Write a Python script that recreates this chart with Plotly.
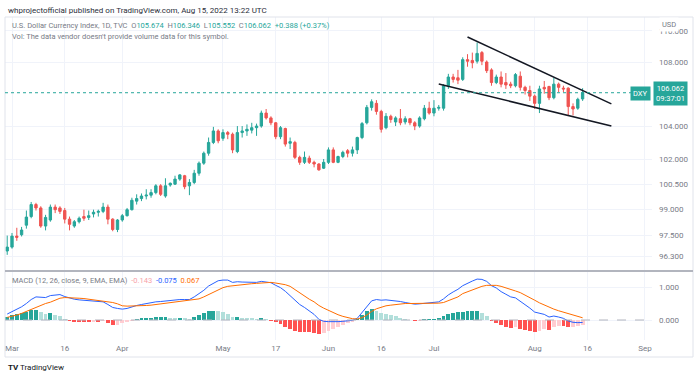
import math
import pandas as pd
import plotly.graph_objects as go

# ---------------- data ----------------
dates = [d.strftime("%Y-%m-%d") for d in pd.bdate_range("2022-02-28", "2022-08-15")]

open_ = [96.62, 96.84, 97.47, 97.55, 98.10, 98.60, 99.30, 99.10, 98.05, 98.40,
         99.15, 99.10, 98.95, 98.45, 98.05, 98.30, 98.60, 98.55, 98.75, 98.85,
         98.90, 99.15, 98.45, 97.85, 98.40, 98.65, 99.00, 99.50, 99.65, 99.80,
         99.85, 100.00, 100.40, 99.80, 100.45, 100.50, 100.80, 101.00, 100.40, 100.60,
         101.15, 101.75, 102.35, 103.00, 103.70, 103.25, 103.60, 103.50, 102.45, 103.60,
         103.70, 103.75, 103.90, 104.00, 104.80, 104.50, 104.20, 103.35, 103.85, 102.95,
         103.00, 102.10, 101.80, 102.05, 101.80, 101.70, 101.45, 101.80, 102.55, 101.80,
         102.15, 102.50, 102.35, 102.55, 103.30, 104.20, 105.15, 105.40, 104.90, 103.90,
         104.60, 104.25, 104.45, 104.25, 104.45, 104.20, 104.00, 104.45, 105.10, 104.80,
         105.10, 105.10, 106.50, 107.05, 107.00, 106.90, 108.15, 108.10, 108.05, 108.60,
         108.00, 107.50, 106.70, 107.05, 106.70, 106.60, 106.50, 107.10, 106.40, 106.20,
         105.85, 105.40, 106.40, 106.45, 105.75, 106.60, 106.35, 106.35, 105.20, 105.10,
         105.674]
high = [97.50, 97.65, 97.95, 98.00, 98.95, 99.45, 99.40, 99.20, 98.70, 99.30,
        99.30, 99.20, 99.10, 98.60, 98.40, 98.60, 99.00, 98.95, 99.00, 99.00,
        99.40, 99.30, 98.50, 98.45, 98.75, 99.10, 99.70, 99.90, 99.95, 100.20,
        100.20, 100.50, 100.50, 100.85, 100.60, 101.00, 101.10, 101.05, 100.80, 101.35,
        101.85, 102.45, 103.30, 103.95, 103.80, 103.80, 103.70, 103.60, 104.00, 104.00,
        104.10, 104.20, 104.15, 104.95, 105.05, 104.60, 104.25, 104.00, 103.90, 103.30,
        103.10, 102.20, 102.45, 102.20, 101.90, 101.75, 102.00, 102.70, 102.70, 102.20,
        102.50, 102.60, 102.75, 103.35, 104.25, 105.30, 105.65, 105.60, 105.00, 104.80,
        104.70, 104.60, 105.05, 104.60, 104.50, 104.30, 104.60, 105.30, 105.50, 105.60,
        105.30, 106.60, 107.25, 107.25, 107.50, 108.30, 108.50, 108.60, 109.25, 108.70,
        108.10, 107.60, 107.20, 107.40, 107.30, 106.75, 107.30, 107.40, 106.50, 106.50,
        105.95, 106.50, 106.80, 106.50, 107.00, 106.70, 106.50, 106.40, 105.40, 105.75,
        106.346]
low = [96.40, 96.75, 97.20, 97.45, 97.90, 98.50, 98.95, 97.95, 97.80, 98.30,
       98.80, 98.75, 98.20, 97.80, 97.95, 98.20, 98.35, 98.40, 98.55, 98.60,
       98.80, 98.15, 97.75, 97.70, 98.30, 98.60, 98.95, 99.30, 99.50, 99.60,
       99.70, 99.90, 99.80, 99.70, 100.35, 100.45, 100.70, 100.20, 99.85, 100.50,
       101.00, 101.65, 102.20, 102.90, 102.95, 103.10, 103.20, 102.35, 102.35, 103.30,
       103.40, 103.55, 103.40, 103.90, 104.40, 104.05, 103.20, 103.20, 102.75, 102.60,
       102.00, 101.65, 101.70, 101.70, 101.50, 101.30, 101.40, 101.70, 101.75, 101.75,
       102.05, 102.10, 102.15, 102.30, 103.20, 104.10, 104.95, 104.70, 103.60, 103.80,
       104.20, 104.00, 104.05, 104.10, 104.05, 103.75, 103.90, 104.35, 104.70, 104.60,
       104.95, 104.95, 106.30, 106.70, 106.60, 106.80, 107.70, 107.60, 107.90, 107.80,
       107.30, 106.50, 106.60, 106.40, 106.30, 106.35, 106.40, 106.20, 105.95, 105.55,
       105.05, 104.80, 106.00, 105.60, 105.65, 106.10, 106.10, 104.65, 104.65, 105.00,
       105.552]
close = [96.84, 97.47, 97.40, 97.82, 98.57, 99.30, 99.10, 98.05, 98.55, 99.15,
         99.00, 98.90, 98.45, 98.15, 98.30, 98.50, 98.50, 98.65, 98.85, 98.90,
         99.15, 98.45, 97.85, 98.40, 98.65, 99.00, 99.55, 99.65, 99.80, 99.85,
         100.00, 100.40, 99.90, 100.40, 100.55, 100.80, 101.05, 100.35, 100.60, 101.15,
         101.75, 102.35, 103.00, 103.70, 103.10, 103.60, 103.50, 102.55, 103.60, 103.70,
         103.80, 103.90, 104.00, 104.80, 104.50, 104.20, 103.35, 103.90, 102.90, 103.05,
         102.10, 101.80, 102.10, 101.80, 101.70, 101.35, 101.80, 102.55, 101.80, 102.15,
         102.40, 102.35, 102.55, 103.30, 104.15, 105.15, 105.50, 104.90, 103.80, 104.60,
         104.40, 104.50, 104.20, 104.45, 104.20, 104.00, 104.50, 105.10, 104.80, 105.10,
         105.15, 106.50, 107.05, 106.90, 106.85, 108.15, 108.05, 107.95, 108.55, 108.05,
         107.45, 106.70, 107.05, 106.60, 106.55, 106.50, 107.20, 106.40, 106.20, 105.85,
         105.40, 106.30, 106.30, 105.75, 106.60, 106.40, 106.30, 105.20, 105.05, 105.65,
         106.062]

macd = [0.18, 0.25, 0.32, 0.40, 0.50, 0.62, 0.70, 0.69, 0.68, 0.74,
        0.76, 0.77, 0.71, 0.66, 0.63, 0.61, 0.60, 0.58, 0.57, 0.56,
        0.55, 0.47, 0.38, 0.35, 0.33, 0.35, 0.40, 0.44, 0.47, 0.50,
        0.52, 0.55, 0.56, 0.58, 0.59, 0.60, 0.62, 0.62, 0.62, 0.70,
        0.79, 0.90, 1.03, 1.12, 1.19, 1.21, 1.21, 1.14, 1.16, 1.15,
        1.14, 1.14, 1.14, 1.17, 1.16, 1.13, 1.05, 0.98, 0.87, 0.74,
        0.60, 0.47, 0.38, 0.27, 0.17, 0.02, -0.04, -0.05, -0.06, -0.05,
        -0.04, -0.03, -0.01, 0.05, 0.22, 0.42, 0.58, 0.62, 0.60, 0.61,
        0.60, 0.59, 0.56, 0.53, 0.50, 0.48, 0.49, 0.51, 0.52, 0.53,
        0.55, 0.64, 0.76, 0.85, 0.93, 1.04, 1.12, 1.18, 1.24, 1.23,
        1.17, 1.04, 0.97, 0.86, 0.78, 0.70, 0.67, 0.57, 0.47, 0.36,
        0.24, 0.20, 0.17, 0.09, 0.12, 0.09, 0.05, -0.03, -0.07, -0.08,
        -0.075]
signal = [0.08, 0.11, 0.15, 0.20, 0.26, 0.33, 0.40, 0.46, 0.50, 0.54,
          0.60, 0.66, 0.68, 0.68, 0.67, 0.66, 0.65, 0.63, 0.61, 0.60,
          0.58, 0.56, 0.53, 0.49, 0.43, 0.42, 0.42, 0.42, 0.43, 0.44,
          0.45, 0.47, 0.48, 0.50, 0.52, 0.54, 0.55, 0.57, 0.59, 0.61,
          0.64, 0.70, 0.77, 0.85, 0.93, 0.98, 1.02, 1.04, 1.06, 1.08,
          1.09, 1.10, 1.11, 1.12, 1.13, 1.14, 1.12, 1.10, 1.07, 1.02,
          0.92, 0.82, 0.73, 0.63, 0.55, 0.44, 0.36, 0.29, 0.22, 0.16,
          0.11, 0.07, 0.04, 0.03, 0.07, 0.15, 0.26, 0.34, 0.39, 0.43,
          0.45, 0.47, 0.49, 0.50, 0.50, 0.50, 0.50, 0.50, 0.50, 0.50,
          0.51, 0.53, 0.58, 0.64, 0.70, 0.80, 0.86, 0.91, 0.96, 1.02,
          1.05, 1.06, 1.05, 1.02, 0.98, 0.93, 0.88, 0.83, 0.76, 0.68,
          0.60, 0.52, 0.45, 0.38, 0.33, 0.28, 0.24, 0.19, 0.14, 0.10,
          0.067]
hist = [0.10, 0.14, 0.17, 0.20, 0.24, 0.29, 0.30, 0.23, 0.18, 0.20,
        0.16, 0.11, 0.03, -0.02, -0.04, -0.05, -0.05, -0.05, -0.04, -0.04,
        -0.03, -0.09, -0.15, -0.14, -0.10, -0.07, -0.02, 0.02, 0.04, 0.06,
        0.07, 0.08, 0.08, 0.08, 0.07, 0.06, 0.07, 0.05, 0.03, 0.09,
        0.15, 0.20, 0.26, 0.27, 0.26, 0.23, 0.19, 0.10, 0.10, 0.07,
        0.05, 0.04, 0.03, 0.05, 0.03, -0.01, -0.07, -0.12, -0.20, -0.28,
        -0.32, -0.35, -0.35, -0.36, -0.38, -0.42, -0.40, -0.34, -0.28, -0.21,
        -0.15, -0.10, -0.05, 0.02, 0.15, 0.27, 0.32, 0.28, 0.21, 0.18,
        0.15, 0.12, 0.07, 0.03, 0.00, -0.02, -0.01, 0.01, 0.02, 0.03,
        0.04, 0.11, 0.18, 0.21, 0.23, 0.24, 0.26, 0.27, 0.28, 0.21,
        0.12, -0.02, -0.08, -0.16, -0.20, -0.23, -0.21, -0.26, -0.29, -0.32,
        -0.36, -0.32, -0.28, -0.29, -0.21, -0.19, -0.19, -0.22, -0.21, -0.18,
        -0.143]

tick_dates = ["2022-03-01", "2022-03-16", "2022-04-01", "2022-05-02", "2022-05-17", "2022-06-01",
              "2022-06-16", "2022-07-01", "2022-08-01", "2022-08-16", "2022-09-01"]
tick_labels = ["Mar", "16", "Apr", "May", "17", "Jun", "16", "Jul", "Aug", "16", "Sep"]

price_ticks = [96.3, 97.5, 99.0, 100.5, 102.0, 104.0, 108.0, 110.0]
macd_ticks = [0.0, 1.0]

trend_upper_dates = ["2022-07-12", "2022-08-23"]
trend_upper_prices = [109.6, 105.37]
trend_lower_dates = ["2022-07-04", "2022-08-23"]
trend_lower_prices = [106.61, 104.0]

# ---------------- helpers ----------------
cal = pd.bdate_range("2022-02-28", "2022-09-30")
pos = {d.strftime("%Y-%m-%d"): k for k, d in enumerate(cal)}
x = [pos[d] for d in dates]
tick_x = [pos[d] for d in tick_dates]

W, H = 700, 378
def px(v):
    return v / W
def py(v):
    return 1 - v / H

UP, DOWN = "#26a69a", "#ef5350"
GRID = "#f0f3fa"
TXT = "#787b86"
FONT = "Roboto"

hist_colors = []
for k, h in enumerate(hist):
    prev = hist[k - 1] if k > 0 else h
    if h >= 0:
        hist_colors.append("#26a69a" if h >= prev else "#b2dfdb")
    else:
        hist_colors.append("#ff5252" if h <= prev else "#ffcdd2")

fig = go.Figure()

fig.add_trace(go.Candlestick(
    x=x, open=open_, high=high, low=low, close=close,
    increasing=dict(line=dict(color=UP, width=1), fillcolor=UP),
    decreasing=dict(line=dict(color=DOWN, width=1), fillcolor=DOWN),
    whiskerwidth=0, xaxis="x", yaxis="y", hoverinfo="skip", showlegend=False))

fig.add_trace(go.Scatter(x=[pos[d] for d in trend_upper_dates], y=trend_upper_prices,
                         mode="lines", line=dict(color="#131722", width=1.5),
                         xaxis="x", yaxis="y", showlegend=False, hoverinfo="skip"))
fig.add_trace(go.Scatter(x=[pos[d] for d in trend_lower_dates], y=trend_lower_prices,
                         mode="lines", line=dict(color="#131722", width=1.5),
                         xaxis="x", yaxis="y", showlegend=False, hoverinfo="skip"))

fig.add_trace(go.Bar(x=x, y=hist, marker=dict(color=hist_colors, line=dict(width=0)),
                     width=0.8, xaxis="x2", yaxis="y2", showlegend=False, hoverinfo="skip"))
fig.add_trace(go.Scatter(x=x, y=macd, mode="lines", line=dict(color="#2962ff", width=1),
                         xaxis="x2", yaxis="y2", showlegend=False, hoverinfo="skip"))
fig.add_trace(go.Scatter(x=x, y=signal, mode="lines", line=dict(color="#ff6d00", width=1),
                         xaxis="x2", yaxis="y2", showlegend=False, hoverinfo="skip"))

xr = [1 - 7 / 4.795, 1 + 640 / 4.795]
ytop = math.log10(108) + 45 / 3908
ybot = math.log10(108) - 208 / 3908

fig.update_layout(
    width=W, height=H, margin=dict(l=0, r=0, t=0, b=0), autosize=False,
    paper_bgcolor="white", plot_bgcolor="white", showlegend=False,
    font=dict(family=FONT, size=8, color=TXT), bargap=0, hovermode=False,
    xaxis=dict(domain=[px(5), px(652)], range=xr, anchor="y", tickvals=tick_x,
               showticklabels=False, showgrid=True, gridcolor=GRID, zeroline=False,
               rangeslider=dict(visible=False), fixedrange=True, ticks=""),
    yaxis=dict(domain=[py(270), py(17)], type="log", range=[ybot, ytop], side="right",
               anchor="x", tickvals=price_ticks, ticktext=[f"{v:.3f}" for v in price_ticks],
               showgrid=True, gridcolor=GRID, zeroline=False, ticks="",
               ticklabelstandoff=6, tickfont=dict(size=8, color=TXT)),
    xaxis2=dict(domain=[px(5), px(652)], range=xr, anchor="y2", tickvals=tick_x,
                ticktext=tick_labels, showgrid=True, gridcolor=GRID, zeroline=False,
                ticks="", tickfont=dict(size=8, color=TXT), ticklabelstandoff=2),
    yaxis2=dict(domain=[py(340), py(272)], range=[-20 / 33, 48 / 33], side="right",
                anchor="x2", tickvals=macd_ticks, ticktext=[f"{v:.3f}" for v in macd_ticks],
                showgrid=True, gridcolor=GRID, zeroline=False, ticks="",
                ticklabelstandoff=6, tickfont=dict(size=8, color=TXT)),
)

shapes = [
    dict(type="rect", xref="paper", yref="paper", x0=px(5), x1=px(693), y0=py(357), y1=py(17),
         line=dict(color="#e0e3eb", width=1), layer="above"),
    dict(type="line", xref="paper", yref="paper", x0=px(5), x1=px(693), y0=py(271), y1=py(271),
         line=dict(color="#b2b5be", width=2), layer="above"),
    dict(type="line", xref="x2 domain", yref="y2", x0=0, x1=1, y0=0, y1=0,
         line=dict(color="#b2b5be", width=1, dash="dash")),
    dict(type="line", xref="x domain", yref="y", x0=0, x1=1, y0=close[-1], y1=close[-1],
         line=dict(color="#26a69a", width=1, dash="dot")),
]
fig.update_layout(shapes=shapes)

G = "#787b86"
T = "#26a69a"
line2 = (f"<span style='color:{G}'>U.S. Dollar Currency Index, 1D, TVC</span>  "
         f"<span style='color:{G}'>O</span><span style='color:{T}'>{open_[-1]:.3f}</span>  "
         f"<span style='color:{G}'>H</span><span style='color:{T}'>{high[-1]:.3f}</span>  "
         f"<span style='color:{G}'>L</span><span style='color:{T}'>{low[-1]:.3f}</span>  "
         f"<span style='color:{G}'>C</span><span style='color:{T}'>{close[-1]:.3f}</span>  "
         f"<span style='color:{T}'>+0.388 (+0.37%)</span>")
macd_leg = (f"<span style='color:{G}'>MACD (12, 26, close, 9, EMA, EMA)</span>  "
            f"<span style='color:#f7a1a8'>{hist[-1]:.3f}</span>  "
            f"<span style='color:#2962ff'>{macd[-1]:.3f}</span>  "
            f"<span style='color:#ff6d00'>{signal[-1]:.3f}</span>")

ann = [
    dict(text="whprojectofficial published on TradingView.com, Aug 15, 2022 13:22 UTC",
         x=px(6), y=py(10), font=dict(size=8, color="#2a2e39"), xanchor="left", yanchor="middle"),
    dict(text=line2, x=px(10), y=py(25), font=dict(size=7.5), xanchor="left", yanchor="middle"),
    dict(text="Vol: The data vendor doesn't provide volume data for this symbol.",
         x=px(10), y=py(36), font=dict(size=7.5, color=G), xanchor="left", yanchor="middle"),
    dict(text=macd_leg, x=px(10), y=py(280), font=dict(size=7.5), xanchor="left", yanchor="middle"),
    dict(text="USD", x=px(659), y=py(24), font=dict(size=7.5, color=G), xanchor="left",
         yanchor="middle", bgcolor="white", borderpad=2),
    dict(text="DXY", x=px(651), y=py(93), font=dict(size=7.5, color="white"), xanchor="right",
         yanchor="middle", bgcolor=T, borderpad=2),
    dict(text=f"{close[-1]:.3f}<br>09:37:01", x=px(653), y=py(94), font=dict(size=7.5, color="white"),
         xanchor="left", yanchor="middle", bgcolor=T, borderpad=2, align="center"),
    dict(text="<b>TV</b> TradingView", x=px(6), y=py(367), font=dict(size=8, color="#131722"),
         xanchor="left", yanchor="middle"),
]
for a in ann:
    a.update(xref="paper", yref="paper", showarrow=False)
fig.update_layout(annotations=ann)

fig.write_html("out.html", config={"displayModeBar": False},
               post_script="document.body.style.margin='0px';document.body.style.overflow='hidden';")
